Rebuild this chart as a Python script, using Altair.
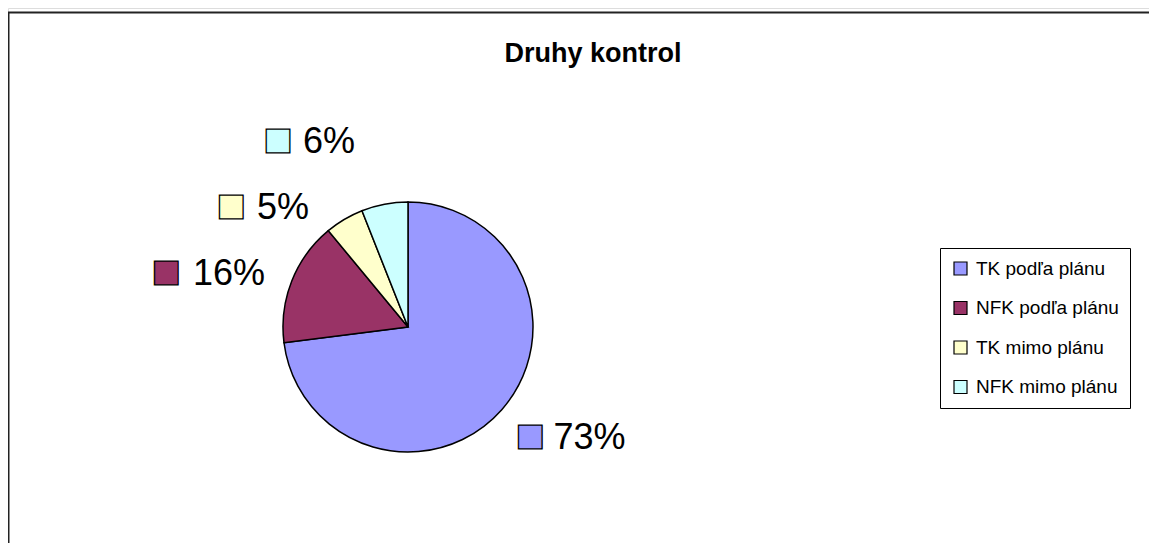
import altair as alt
import pandas as pd

# ---- data ----
categories = ["TK podľa plánu", "NFK podľa plánu", "TK mimo plánu", "NFK mimo plánu"]
shares = [73, 16, 5, 6]
share_labels = ["73%", "16%", "5%", "6%"]
colors = ["#9999FF", "#993366", "#FFFFCC", "#CCFFFF"]
title_text = "Druhy kontrol"

# ---- layout (not data) ----
W, H = 1141, 535
CX, CY, R = 400, 319, 125
LABEL_R = 150
# per label nudges: (square dx, common dy, text dx)
label_nudge = {
    "73%": (9.5, 10, 33),
    "16%": (-102.5, 0, -75.5),
    "5%": (-100.6, 8, -74.6),
    "6%": (-102, -39.7, -76.9),
}
FONT = "Liberation Sans"
KEY_GLYPH = "\u25a0"

df = pd.DataFrame({
    "kategoria": categories,
    "podiel": shares,
    "popis": share_labels,
    "poradie": list(range(len(categories))),
})

theta_scale = alt.Scale(domain=[0, sum(shares)], range=[0, 6.283185307179586])
color_scale = alt.Scale(domain=categories, range=colors)

base = alt.Chart(df)

pie = base.mark_arc(stroke="black", strokeWidth=1.5).encode(
    theta=alt.Theta("podiel:Q", stack=True, scale=theta_scale),
    color=alt.Color(
        "kategoria:N",
        sort=categories,
        scale=color_scale,
        legend=alt.Legend(
            title=None,
            orient="none",
            legendX=932,
            legendY=240,
            strokeColor="black",
            padding=11,
            symbolType="square",
            symbolSize=169,
            symbolStrokeColor="black",
            symbolStrokeWidth=1.2,
            labelFont=FONT,
            labelFontSize=19,
            labelColor="black",
            labelLimit=400,
            labelOffset=6,
            rowPadding=19.5,
        ),
    ),
    order=alt.Order("poradie:Q"),
    x=alt.value(CX),
    y=alt.value(CY),
    radius=alt.value(R),
)

positioned = base.transform_window(
    cum="sum(podiel)", sort=[alt.SortField("poradie")], frame=[None, 0]
).transform_calculate(mid="datum.cum - datum.podiel / 2", key=f"'{KEY_GLYPH}'")

layers = [pie]
for lab, (sdx, ddy, tdx) in label_nudge.items():
    sub = positioned.transform_filter(alt.datum.popis == lab)
    sq = sub.mark_text(
        align="center", baseline="middle", font="DejaVu Sans", fontSize=31,
        stroke="black", strokeWidth=1.3, dx=sdx, dy=ddy,
    ).encode(
        theta=alt.Theta("mid:Q", stack=None, scale=theta_scale),
        radius=alt.value(LABEL_R),
        x=alt.value(CX),
        y=alt.value(CY),
        text="key:N",
        color=alt.Color("kategoria:N", scale=color_scale, legend=None),
    )
    tx = sub.mark_text(
        align="left", baseline="middle", font=FONT, fontSize=36, color="black",
        dx=tdx, dy=ddy + 2,
    ).encode(
        theta=alt.Theta("mid:Q", stack=None, scale=theta_scale),
        radius=alt.value(LABEL_R),
        x=alt.value(CX),
        y=alt.value(CY),
        text="popis:N",
    )
    layers += [sq, tx]

title = alt.Chart(pd.DataFrame({"t": [title_text]})).mark_text(
    align="center", baseline="alphabetic", font=FONT, fontSize=27, fontWeight="bold", color="black"
).encode(text="t:N", x=alt.value(585), y=alt.value(54))

border_top = alt.Chart(pd.DataFrame({"a": [0]})).mark_rule(color="#222222", strokeWidth=2).encode(
    x=alt.value(0), x2=alt.value(W), y=alt.value(4.5)
)
border_left = alt.Chart(pd.DataFrame({"a": [0]})).mark_rule(color="#222222", strokeWidth=2).encode(
    x=alt.value(0.5), y=alt.value(4.5), y2=alt.value(H)
)

chart = alt.layer(*layers, title, border_top, border_left).properties(
    width=W, height=H, padding=0, autosize=alt.AutoSizeParams(type="none")
).configure_view(stroke=None).configure(background="white")

chart.save("out.html", embed_options={"renderer": "svg", "actions": False})
